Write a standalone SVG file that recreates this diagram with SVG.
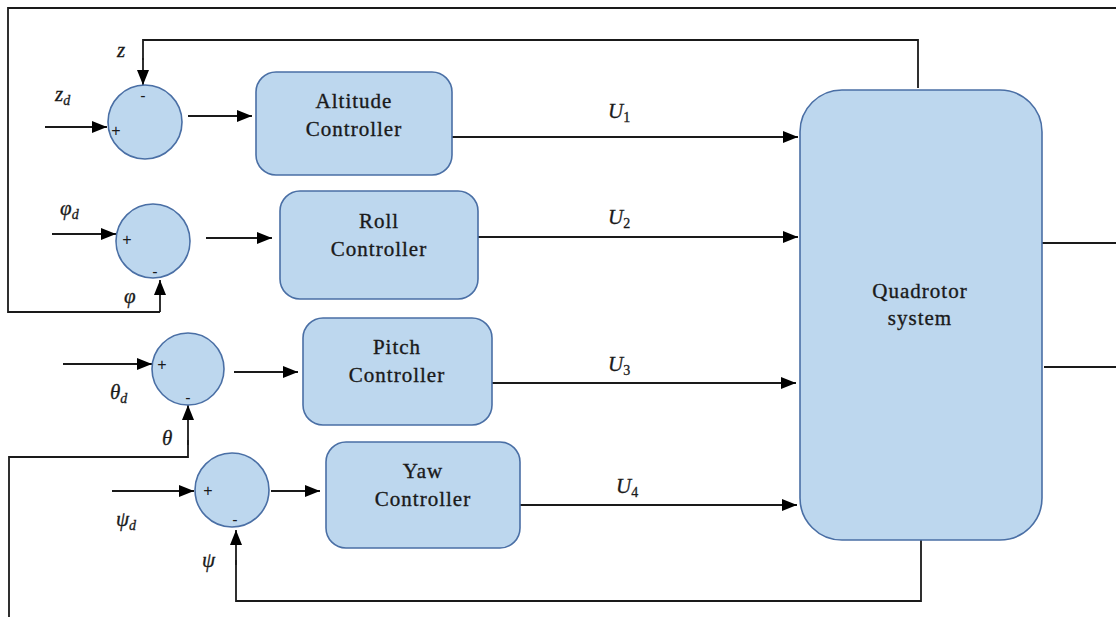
<svg xmlns="http://www.w3.org/2000/svg" width="1116" height="617" viewBox="0 0 1116 617">
  <defs>
    <marker id="arrow" markerWidth="15" markerHeight="12" refX="15" refY="6" orient="auto" markerUnits="userSpaceOnUse">
      <path d="M0,0 L15,6 L0,12 Z" fill="#000"/>
    </marker>
    <style>
      .block { fill: #BDD7EE; stroke: #4A6FA5; stroke-width: 1.6; }
      .wire { fill: none; stroke: #1a1a1a; stroke-width: 1.8; }
      .arrow { fill: none; stroke: #1a1a1a; stroke-width: 1.8; marker-end: url(#arrow); }
      .title { font-family: "Liberation Serif", "Times New Roman", serif; font-size: 21px; letter-spacing: 1px; fill: #1a1a1a; stroke: #1a1a1a; stroke-width: 0.35; text-anchor: middle; }
      .math { font-family: "Liberation Serif", "Times New Roman", serif; font-style: italic; font-size: 21px; fill: #1a1a1a; stroke: #1a1a1a; stroke-width: 0.3; }
      .sub { font-size: 14px; }
      .num { font-style: normal; }
      .sign { font-family: "Liberation Sans", Arial, sans-serif; font-size: 16px; fill: #1a1a1a; text-anchor: middle; }
    </style>
  </defs>

  <rect width="1116" height="617" fill="#fff"/>

  <!-- connectors -->
  <g id="connectors">
    <!-- outer frame: phi feedback -->
    <polyline class="wire" points="1116,8 8,8 8,312 160,312"/>
    <line class="arrow" x1="160" y1="312" x2="160" y2="280"/>
    <!-- z feedback -->
    <polyline class="wire" points="918,88 918,40 143,40 143,60"/>
    <line class="arrow" x1="143" y1="58" x2="143" y2="85"/>
    <!-- theta feedback -->
    <polyline class="wire" points="9,617 9,457 188,457 188,440"/>
    <line class="arrow" x1="188" y1="445" x2="188" y2="405"/>
    <!-- psi feedback -->
    <polyline class="wire" points="921,540 921,601 236,601 236,560"/>
    <line class="arrow" x1="236" y1="565" x2="236" y2="530"/>

    <!-- reference inputs -->
    <line class="arrow" x1="45" y1="127" x2="107" y2="127"/>
    <line class="arrow" x1="52" y1="234" x2="116" y2="234"/>
    <line class="arrow" x1="63" y1="364" x2="152" y2="364"/>
    <line class="arrow" x1="112" y1="491" x2="194" y2="491"/>

    <!-- error signals to controllers -->
    <line class="arrow" x1="188" y1="116" x2="252" y2="116"/>
    <line class="arrow" x1="206" y1="238" x2="272" y2="238"/>
    <line class="arrow" x1="234" y1="372" x2="298" y2="372"/>
    <line class="arrow" x1="271" y1="491" x2="320" y2="491"/>

    <!-- control inputs U1..U4 -->
    <line class="arrow" x1="452" y1="137" x2="798" y2="137"/>
    <line class="arrow" x1="478" y1="237" x2="798" y2="237"/>
    <line class="arrow" x1="492" y1="383" x2="796" y2="383"/>
    <line class="arrow" x1="520" y1="505" x2="797" y2="505"/>

    <!-- plant outputs -->
    <line class="wire" x1="1042" y1="243" x2="1116" y2="243"/>
    <line class="wire" x1="1044" y1="367" x2="1116" y2="367"/>
  </g>

  <!-- summing junctions -->
  <g id="sum-altitude">
    <circle class="block" cx="145" cy="122" r="37"/>
    <text class="sign" x="143" y="101">-</text>
    <text class="sign" x="116" y="136">+</text>
  </g>
  <g id="sum-roll">
    <circle class="block" cx="153" cy="241" r="37"/>
    <text class="sign" x="127" y="245">+</text>
    <text class="sign" x="155" y="277">-</text>
  </g>
  <g id="sum-pitch">
    <circle class="block" cx="188" cy="369" r="36"/>
    <text class="sign" x="162" y="370">+</text>
    <text class="sign" x="188" y="403">-</text>
  </g>
  <g id="sum-yaw">
    <circle class="block" cx="232" cy="490" r="37"/>
    <text class="sign" x="208" y="496">+</text>
    <text class="sign" x="235" y="525">-</text>
  </g>

  <!-- controllers -->
  <g id="altitude-controller">
    <rect class="block" x="256" y="72" width="196" height="103" rx="20"/>
    <text class="title" x="354" y="108">Altitude</text>
    <text class="title" x="354" y="136">Controller</text>
  </g>
  <g id="roll-controller">
    <rect class="block" x="280" y="191" width="198" height="108" rx="20"/>
    <text class="title" x="379" y="228">Roll</text>
    <text class="title" x="379" y="256">Controller</text>
  </g>
  <g id="pitch-controller">
    <rect class="block" x="303" y="318" width="189" height="107" rx="20"/>
    <text class="title" x="397" y="354">Pitch</text>
    <text class="title" x="397" y="382">Controller</text>
  </g>
  <g id="yaw-controller">
    <rect class="block" x="326" y="442" width="194" height="106" rx="20"/>
    <text class="title" x="423" y="478">Yaw</text>
    <text class="title" x="423" y="506">Controller</text>
  </g>

  <!-- plant -->
  <g id="quadrotor-system">
    <rect class="block" x="800" y="90" width="242" height="450" rx="42"/>
    <text class="title" x="920" y="298">Quadrotor</text>
    <text class="title" x="920" y="325">system</text>
  </g>

  <!-- signal labels -->
  <g id="labels">
    <text class="math" x="117" y="57">z</text>
    <text class="math" x="55" y="101">z<tspan class="sub" dy="4">d</tspan></text>
    <text class="math" x="60" y="215">φ<tspan class="sub" dy="4">d</tspan></text>
    <text class="math" x="124" y="303">φ</text>
    <text class="math" x="110" y="399">θ<tspan class="sub" dy="4">d</tspan></text>
    <text class="math" x="162" y="445">θ</text>
    <text class="math" x="116" y="526">ψ<tspan class="sub" dy="4">d</tspan></text>
    <text class="math" x="202" y="567">ψ</text>
    <text class="math" x="608" y="118">U<tspan class="sub num" dy="4">1</tspan></text>
    <text class="math" x="608" y="224">U<tspan class="sub num" dy="4">2</tspan></text>
    <text class="math" x="608" y="371">U<tspan class="sub num" dy="4">3</tspan></text>
    <text class="math" x="616" y="493">U<tspan class="sub num" dy="4">4</tspan></text>
  </g>
</svg>
